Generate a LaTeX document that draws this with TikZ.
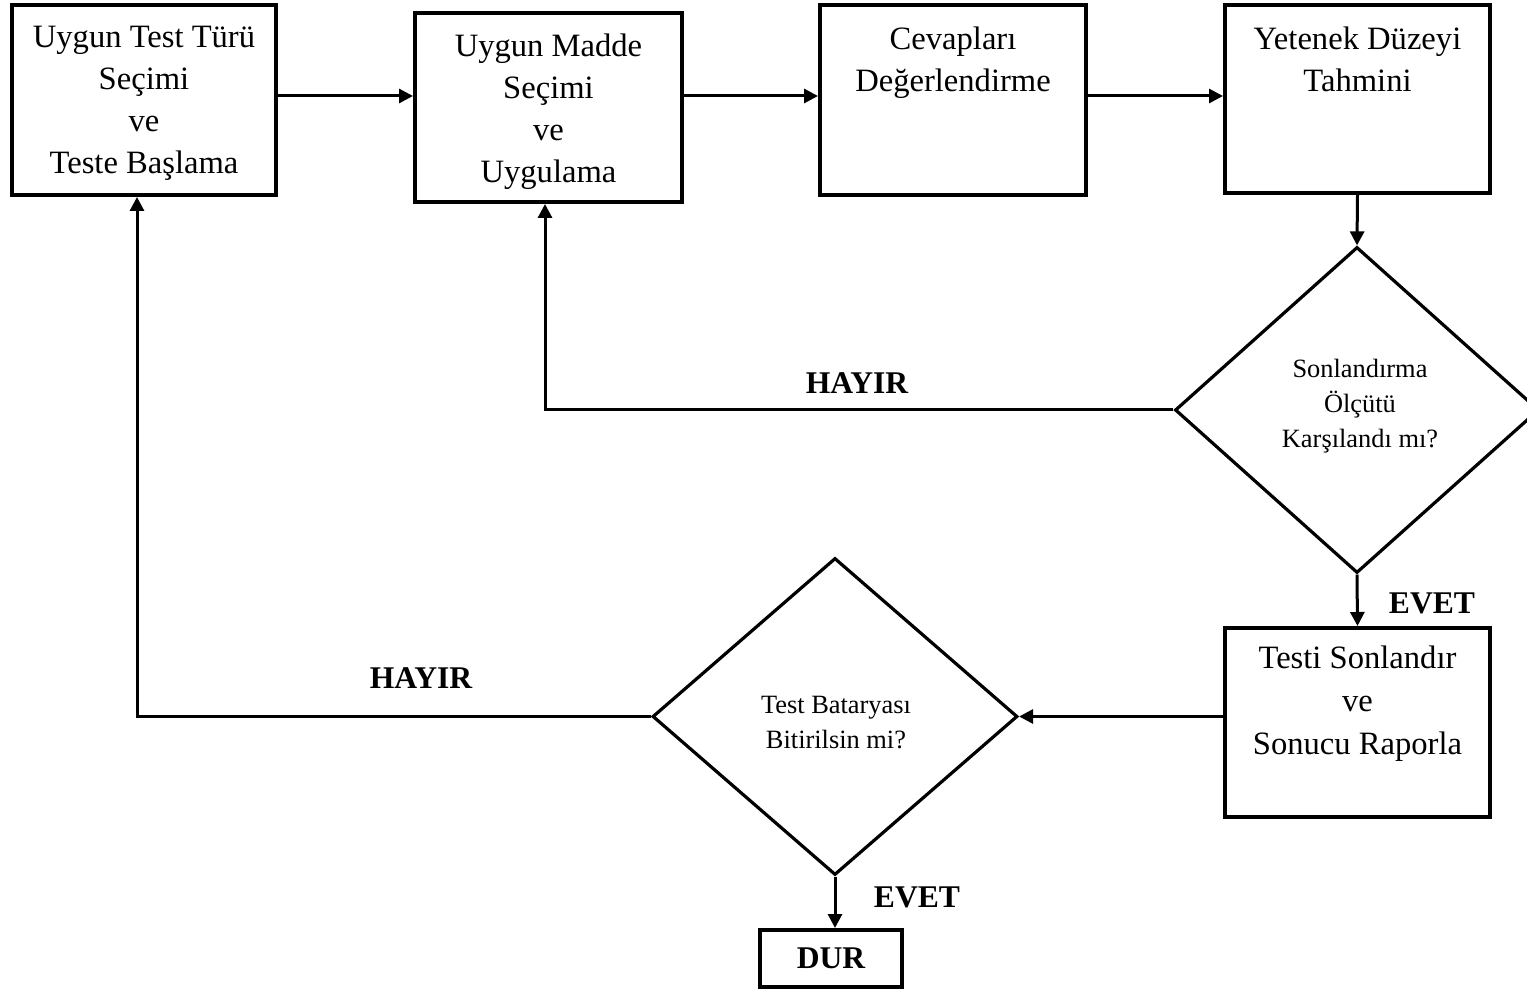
\documentclass[tikz,border=0pt]{standalone}
\usepackage{fontspec}
\setmainfont{Liberation Serif}
\usetikzlibrary{arrows.meta,shapes.geometric}
\begin{document}
\begin{tikzpicture}[x=0.5pt,y=-0.5pt,
 box/.style={draw,line width=2pt,rectangle,inner sep=0},
 dia/.style={draw,line width=1.6pt,diamond,inner sep=0},
 btxt/.style={font=\fontsize{16.3}{21}\selectfont,align=center,inner sep=0,anchor=north},
 dtxt/.style={font=\fontsize{13.2}{17.5}\selectfont,align=center,inner sep=0,anchor=north},
 lbl/.style={font=\fontsize{15.8}{18}\selectfont\bfseries,inner sep=0},
 arr/.style={line width=1.5pt,-{Triangle[length=7pt,width=7pt]}}]
\useasboundingbox (0,0) rectangle (1527,989);
% boxes
\node[box,minimum width=132pt,minimum height=95pt] (b1) at (144,100) {};
\node[box,minimum width=133.5pt,minimum height=94.5pt] (b2) at (548.5,107.5) {};
\node[box,minimum width=133pt,minimum height=95pt] (b3) at (953,100) {};
\node[box,minimum width=132.5pt,minimum height=94pt] (b4) at (1357.5,99) {};
\node[box,minimum width=132.5pt,minimum height=94.5pt] (b5) at (1357.5,722.5) {};
\node[box,minimum width=71pt,minimum height=28.5pt,font=\fontsize{15.8}{18}\selectfont\bfseries] (dur) at (831,958.5) {DUR};
% diamonds
\node[dia,minimum width=182pt,minimum height=163pt] (d1) at (1357,410) {};
\node[dia,minimum width=182.5pt,minimum height=158.5pt] (d2) at (835,716.5) {};
% texts
\node[btxt] (t1) at (144,26) {Uygun Test Türü\\Seçimi\\ve\\Teste Başlama};
\node[btxt] (t2) at (548.5,33) {Uygun Madde\\Seçimi\\ve\\Uygulama};
\node[btxt] (t3) at (953,26) {Cevapları\\Değerlendirme};
\node[btxt] (t4) at (1357.5,26) {Yetenek Düzeyi\\Tahmini};
\node[btxt,font=\fontsize{16.3}{21.5}\selectfont] (t5) at (1357.5,645) {Testi Sonlandır\\ve\\Sonucu Raporla};
\node[dtxt] (td1) at (1360,359) {Sonlandırma\\Ölçütü\\Karşılandı mı?};
\node[dtxt,font=\fontsize{13.2}{17.2}\selectfont] (td2) at (836,696) {Test Bataryası\\Bitirilsin mi?};
% labels
\node[lbl] (h1) at (857,383) {HAYIR};
\node[lbl] (h2) at (421,678) {HAYIR};
\node[lbl] (e1) at (1432,603) {EVET};
\node[lbl] (e2) at (917,897) {EVET};
% connectors
\draw[arr] (b1.east |- 0,96) -- (b2.west |- 0,96);
\draw[arr] (b2.east |- 0,96) -- (b3.west |- 0,96);
\draw[arr] (b3.east |- 0,96) -- (b4.west |- 0,96);
\draw[arr] (b4.south) -- (d1.north);
\draw[arr] (d1.south) -- (b5.north);
\draw[arr] (d1.west) -| ([xshift=-1.75pt]b2.south);
\draw[arr] (b5.west |- d2.east) -- (d2.east);
\draw[arr] (d2.west) -| ([xshift=-3.5pt]b1.south);
\draw[arr] (d2.south) -- (d2.south |- dur.north);
\end{tikzpicture}
\end{document}
